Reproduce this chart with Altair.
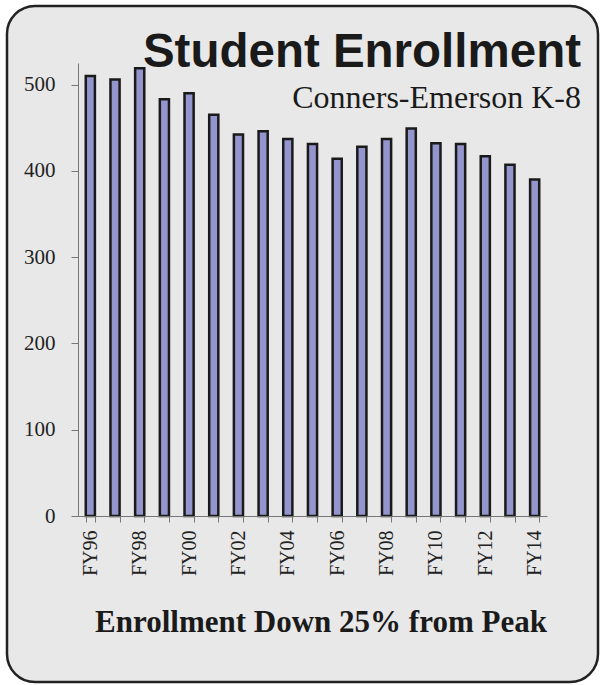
import altair as alt
import pandas as pd

# ---- data ----
years = ["FY96", "FY97", "FY98", "FY99", "FY00", "FY01", "FY02", "FY03", "FY04", "FY05",
         "FY06", "FY07", "FY08", "FY09", "FY10", "FY11", "FY12", "FY13", "FY14"]
enrollment = [510, 506, 519, 483, 490, 465, 442, 446, 437, 431,
              414, 428, 437, 449, 432, 431, 417, 407, 390]
y_ticks = [0, 100, 200, 300, 400, 500]
title_text = "Student Enrollment"
subtitle_text = "Conners-Emerson K-8"
footer_text = "Enrollment Down 25% from Peak"

df = pd.DataFrame({"year": years, "enrollment": enrollment})

PLOT_W, PLOT_H = 469, 453
LEFT, TOP = 78, 63

cats_js = "[" + ",".join("'%s'" % y for y in years) + "]"
label_expr = "indexof(%s, datum.value) %% 2 == 0 ? datum.value : ''" % cats_js

# background rounded panel
panel = alt.Chart(pd.DataFrame({"k": [0]})).mark_rect(
    fill="#e8e8e8", stroke="#222222", strokeWidth=2.5, cornerRadius=28
).encode(
    x=alt.value(7 - LEFT), x2=alt.value(598 - LEFT),
    y=alt.value(6 - TOP), y2=alt.value(682 - TOP)
)

bars = alt.Chart(df).mark_bar(
    fill="#9595cd", stroke="#1a1a1a", strokeWidth=2.5
).encode(
    x=alt.X("year:N", sort=years,
            scale=alt.Scale(paddingInner=0.63, paddingOuter=0.315),
            axis=alt.Axis(title=None, labelAngle=-90, labelAlign="right", labelBaseline="middle",
                          tickBand="extent", tickSize=6, labelPadding=8,
                          labelExpr=label_expr, labelFont="Liberation Serif",
                          labelFontSize=20, labelColor="#222222",
                          domainColor="#777777", tickColor="#777777", zindex=1)),
    y=alt.Y("enrollment:Q",
            scale=alt.Scale(domain=[0, 525], nice=False),
            axis=alt.Axis(title=None, values=y_ticks, grid=False, tickSize=7, labelPadding=16,
                          labelFont="Liberation Serif", labelFontSize=21, labelColor="#222222",
                          domainColor="#777777", tickColor="#777777", zindex=1))
)

def text_layer(txt, x, y, font, size, weight, align):
    return alt.Chart(pd.DataFrame({"t": [txt]})).mark_text(
        font=font, fontSize=size, fontWeight=weight, align=align,
        baseline="alphabetic", color="#1a1a1a"
    ).encode(x=alt.value(x - LEFT), y=alt.value(y - TOP), text="t:N")

title = text_layer(title_text, 581, 67, "Liberation Sans", 47.5, "bold", "right")
subtitle = text_layer(subtitle_text, 581, 108, "Liberation Serif", 32, "normal", "right")
footer = text_layer(footer_text, 321, 632, "Liberation Serif", 31, "bold", "center")

chart = alt.layer(panel, bars, title, subtitle, footer).properties(
    width=PLOT_W, height=PLOT_H,
    autosize=alt.AutoSizeParams(type="none"),
    padding={"left": LEFT, "top": TOP, "right": 600 - LEFT - PLOT_W, "bottom": 685 - TOP - PLOT_H},
    background="white"
).configure_view(stroke=None)

chart.save("out.html", embed_options={"renderer": "svg", "actions": False})
